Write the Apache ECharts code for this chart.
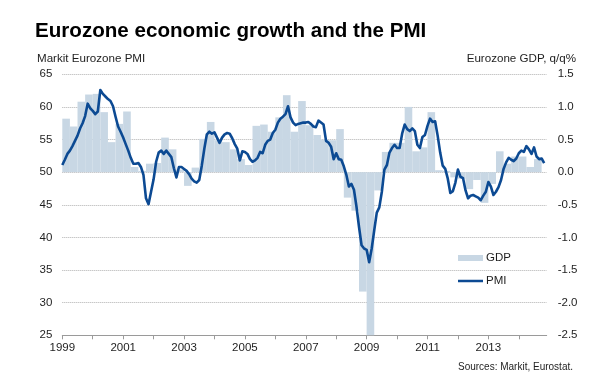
<!DOCTYPE html>
<html>
<head>
<meta charset="utf-8">
<script src="https://cdn.jsdelivr.net/npm/echarts@6/dist/echarts.min.js"></script>
<style>
html,body{margin:0;padding:0;background:#fff;}
#chart{width:612px;height:389px;}
</style>
</head>
<body>
<div id="chart"></div>
<script>
// ---- Data ----
const START_YEAR = 1999;
const yearLabels = ['1999','2001','2003','2005','2007','2009','2011','2013'];

// Eurozone GDP, q/q %, quarterly from Q1 1999 to Q3 2014
const gdpQuarterly = [
  0.82, 0.70, 1.08, 1.19,
  1.20, 0.92, 0.46, 0.74,
  0.93, 0.08, 0.02, 0.13,
  0.14, 0.53, 0.35, 0.04,
  -0.21, 0.07, 0.51, 0.77,
  0.49, 0.46, 0.35, 0.20,
  0.11, 0.71, 0.73, 0.62,
  0.84, 1.18, 0.62, 1.09,
  0.72, 0.57, 0.50, 0.49,
  0.66, -0.39, -0.59, -1.83,
  -2.50, -0.28, 0.31, 0.45,
  0.45, 1.00, 0.32, 0.38,
  0.92, 0.03, 0.02, -0.08,
  -0.10, -0.26, -0.12, -0.47,
  -0.18, 0.32, 0.13, 0.24,
  0.24, 0.08, 0.20
];

// Markit Eurozone PMI, monthly from Jan 1999 to Nov 2014
const pmiMonthly = [
  51.1, 51.9, 52.8, 53.3, 54.0, 54.8, 55.6, 56.7, 57.5, 58.6, 60.5, 59.8,
  59.4, 58.9, 59.3, 62.6, 62.0, 61.6, 61.2, 60.9, 60.1, 58.5, 57.0, 56.2,
  55.3, 54.3, 53.3, 52.2, 51.3, 51.3, 51.4, 50.8, 49.6, 46.0, 45.1, 47.0,
  48.9, 51.6, 53.0, 53.3, 52.8, 53.3, 52.8, 52.3, 50.6, 49.2, 50.8, 50.8,
  50.5, 50.2, 49.7, 49.0, 48.6, 48.4, 48.8, 51.0, 53.6, 55.8, 56.2, 55.9,
  56.1, 55.3, 54.5, 55.3, 55.8, 56.0, 55.9, 55.2, 54.3, 53.6, 51.8, 53.2,
  53.1, 52.8, 52.0, 51.6, 51.8, 52.2, 53.1, 52.9, 54.2, 54.8, 55.0, 56.0,
  56.5, 57.6, 58.2, 58.5, 58.9, 60.1, 58.4, 57.6, 57.2, 57.4, 57.5, 57.6,
  57.6, 57.7, 57.4, 57.0, 56.9, 57.9, 57.6, 57.3, 54.8, 54.5, 53.9, 52.0,
  52.9, 52.0, 51.9, 50.9, 49.6, 47.8, 48.2, 47.3, 44.7, 41.6, 38.8, 38.3,
  38.1, 36.2, 38.3, 41.1, 43.8, 44.6, 47.0, 50.4, 51.1, 53.0, 53.7, 54.2,
  53.7, 53.7, 55.9, 57.3, 56.6, 56.3, 56.7, 56.3, 54.2, 53.7, 55.4, 55.7,
  57.1, 58.2, 57.7, 57.8, 55.6, 53.0, 51.0, 50.5, 49.0, 46.8, 47.1, 48.4,
  50.4, 49.3, 49.1, 47.2, 46.0, 46.4, 46.5, 46.3, 46.1, 45.7, 46.4, 47.0,
  48.5, 47.8, 46.5, 47.0, 47.7, 48.8, 50.5, 51.5, 52.2, 51.9, 51.7, 52.1,
  52.9, 53.3, 53.1, 54.0, 53.5, 52.8, 53.8, 52.4, 52.0, 52.1, 51.4
];

// PMI left-axis ticks and GDP right-axis ticks
const pmiAxis = {min: 25, max: 65, step: 5};
const gdpAxis = {min: -2.5, max: 1.5, step: 0.5};

// ---- Chart ----
const FONT = "'Liberation Sans', Arial, sans-serif";
const TEXT = '#1e1e1e';
const BAR = '#c8d7e4';
const LINE = '#0c4a93';

const chart = echarts.init(document.getElementById('chart'), null, {renderer: 'canvas'});

const monthsShown = 191; // axis spans Jan 1999 .. end of Nov 2014

const option = {
  backgroundColor: '#fff',
  animation: false,
  textStyle: {fontFamily: FONT, color: TEXT},
  title: [
    {text: 'Eurozone economic growth and the PMI', left: 35, top: 19, padding: 0,
     textStyle: {fontFamily: FONT, fontSize: 20.6, fontWeight: 'bold', color: '#000', lineHeight: 24}},
    {text: 'Markit Eurozone PMI', left: 37, top: 52, padding: 0,
     textStyle: {fontFamily: FONT, fontSize: 11.6, fontWeight: 'normal', color: TEXT, lineHeight: 14}},
    {text: 'Eurozone GDP, q/q%', right: 36, top: 52, padding: 0,
     textStyle: {fontFamily: FONT, fontSize: 11.6, fontWeight: 'normal', color: TEXT, lineHeight: 14}},
    {text: 'Sources: Markit, Eurostat.', right: 39, top: 361, padding: 0,
     textStyle: {fontFamily: FONT, fontSize: 10, fontWeight: 'normal', color: TEXT, lineHeight: 12}}
  ],
  legend: [
    {data: [{name: 'GDP', icon: 'rect'}], left: 458, top: 252, padding: 0,
     itemWidth: 25, itemHeight: 6, itemGap: 0, selectedMode: false,
     textStyle: {fontFamily: FONT, fontSize: 11.5, color: TEXT, padding: [0,0,0,-2]}},
    {data: [{name: 'PMI', icon: 'rect'}], left: 458, top: 275, padding: 0,
     itemWidth: 25, itemHeight: 2.5, itemGap: 0, selectedMode: false,
     textStyle: {fontFamily: FONT, fontSize: 11.5, color: TEXT, padding: [0,0,0,-2]}}
  ],
  grid: {left: 62.3, right: 65.3, top: 74.3, bottom: 53.7, containLabel: false},
  xAxis: {
    type: 'value', min: 0, max: monthsShown, interval: 12,
    axisLine: {show: true, onZero: false, lineStyle: {color: '#9a9a9a', width: 1}},
    axisTick: {show: true, length: 4, lineStyle: {color: '#9a9a9a'}},
    splitLine: {show: false},
    axisLabel: {
      fontFamily: FONT, fontSize: 11.5, color: TEXT, margin: 7,
      showMaxLabel: false,
      formatter: function (v) {
        const y = START_YEAR + Math.round(v / 12);
        return (v % 12 === 0 && yearLabels.indexOf(String(y)) >= 0) ? String(y) : '';
      }
    }
  },
  yAxis: [
    {type: 'value', min: pmiAxis.min, max: pmiAxis.max, interval: pmiAxis.step, position: 'left',
     axisLine: {show: false}, axisTick: {show: false},
     splitLine: {show: true, lineStyle: {color: '#b0b0b0', type: [1, 1], width: 1}},
     axisLabel: {fontFamily: FONT, fontSize: 11.5, color: TEXT, margin: 10}},
    {type: 'value', min: gdpAxis.min, max: gdpAxis.max, interval: gdpAxis.step, position: 'right',
     axisLine: {show: false}, axisTick: {show: false}, splitLine: {show: false},
     axisLabel: {fontFamily: FONT, fontSize: 11.5, color: TEXT, margin: 11,
                 formatter: v => v.toFixed(1)}}
  ],
  series: [
    {
      name: 'GDP', type: 'custom', yAxisIndex: 1, z: 1,
      itemStyle: {color: BAR},
      encode: {x: 0, y: 1},
      data: gdpQuarterly.map((v, i) => [i * 3, v]),
      renderItem: function (params, api) {
        const start = api.value(0);
        const val = api.value(1);
        const a = api.coord([start, val]);
        const b = api.coord([start + 3, 0]);
        return {
          type: 'rect',
          shape: {x: a[0], y: Math.min(a[1], b[1]), width: b[0] - a[0], height: Math.abs(b[1] - a[1])},
          style: {fill: BAR}
        };
      }
    },
    {
      name: 'PMI', type: 'line', yAxisIndex: 0, z: 3,
      data: pmiMonthly.map((v, i) => [i, v]),
      showSymbol: false, symbol: 'none',
      itemStyle: {color: LINE},
      lineStyle: {color: LINE, width: 2.6, join: 'round'}
    }
  ]
};
chart.setOption(option);
</script>
</body>
</html>
